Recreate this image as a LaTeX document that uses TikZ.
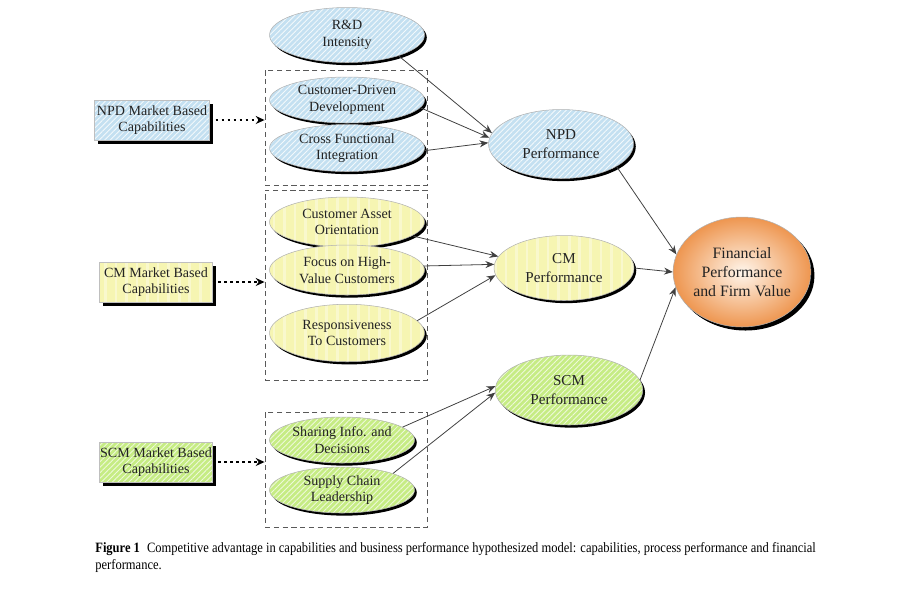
\documentclass[tikz,border=0pt]{standalone}
\usepackage{fontspec}
\setmainfont{Liberation Serif}
\newfontfamily\capfont[FakeStretch=0.88]{Liberation Serif}
\usetikzlibrary{shapes.geometric,patterns.meta,shadows,arrows.meta}
\definecolor{bluef}{RGB}{196,224,241}
\definecolor{yelf}{RGB}{246,245,178}
\definecolor{grnf}{RGB}{198,236,132}
\definecolor{orgo}{RGB}{238,150,80}
\definecolor{orgi}{RGB}{255,246,236}
\definecolor{txt}{RGB}{35,35,35}
\tikzset{
  shad/.style={drop shadow={shadow xshift=1.3pt, shadow yshift=-1.5pt, fill=black, opacity=1}},
  ell/.style={ellipse, inner sep=0pt, draw=gray!60, line width=0.3pt, align=center, text=txt,
    font=\fontsize{8}{9.5}\selectfont, shad},
  bigell/.style={ell, font=\fontsize{8.6}{10.5}\selectfont},
  bluepat/.style={preaction={fill=bluef}, pattern={Lines[angle=45,distance=2.2pt,line width=0.5pt]}, pattern color=white!80!bluef},
  yelpat/.style={preaction={fill=yelf}, pattern={Lines[angle=90,distance=6pt,line width=1.5pt]}, pattern color=white!35!yelf},
  grnpat/.style={preaction={fill=grnf}, pattern={Lines[angle=45,distance=2.2pt,line width=0.5pt]}, pattern color=white!70!grnf},
  capbox/.style={rectangle, inner sep=0pt, draw=gray!50, line width=0.3pt, align=center, text=txt,
    font=\fontsize{8}{9.5}\selectfont, minimum width=2.3cm, minimum height=0.8cm,
    drop shadow={shadow xshift=2pt, shadow yshift=-2pt, fill=black, opacity=1}},
  dbox/.style={rectangle, draw=gray!70!black, densely dashed, line width=0.5pt, inner sep=0pt},
  conn/.style={draw=black!75, line width=0.45pt, -{Stealth[length=5pt,width=4pt]}},
  dotarr/.style={draw=black, line width=1.4pt, dotted, -{Stealth[length=5pt,width=4.5pt]}},
}
\begin{document}
\begin{tikzpicture}[x=0.02cm,y=-0.02cm]
\useasboundingbox (0,0) rectangle (900,600);
% dashed groups
\node[dbox, minimum width=3.24cm, minimum height=2.3cm] (g1) at (346,127.5) {};
\node[dbox, minimum width=3.24cm, minimum height=3.8cm] (g2) at (346,285) {};
\node[dbox, minimum width=3.24cm, minimum height=2.3cm] (g3) at (346,469.5) {};
% NPD
\node[ell, bluepat, minimum width=3.1cm, minimum height=1.1cm] (rd) at (347,35) {R\&D\\Intensity};
\node[ell, bluepat, minimum width=3.1cm, minimum height=0.92cm] (cdd) at (347,100) {Customer-Driven\\Development};
\node[ell, bluepat, minimum width=3.1cm, minimum height=0.94cm] (cfi) at (347,148) {Cross Functional\\Integration};
\node[capbox, bluepat] (npdcap) at (152,120) {NPD Market Based\\Capabilities};
\node[bigell, bluepat, minimum width=2.9cm, minimum height=1.38cm] (npdp) at (561,144) {NPD\\Performance};
% CM
\node[ell, yelpat, minimum width=3.1cm, minimum height=1.0cm] (cao) at (347,222) {Customer Asset\\Orientation};
\node[ell, yelpat, minimum width=3.1cm, minimum height=1.0cm] (fhv) at (347,270) {Focus on High-\\Value Customers};
\node[ell, yelpat, minimum width=3.1cm, minimum height=1.15cm] (rtc) at (347,333) {Responsiveness\\To Customers};
\node[capbox, yelpat, minimum width=2.25cm] (cmcap) at (156,282) {CM Market Based\\Capabilities};
\node[bigell, yelpat, minimum width=2.8cm, minimum height=1.3cm] (cmp) at (564,268) {CM\\Performance};
% SCM
\node[ell, grnpat, minimum width=2.9cm, minimum height=0.92cm] (sid) at (342,440) {Sharing Info. and\\Decisions};
\node[ell, grnpat, minimum width=2.9cm, minimum height=0.92cm] (scl) at (342,490) {Supply Chain\\Leadership};
\node[capbox, grnpat, minimum width=2.25cm] (scmcap) at (156,462) {SCM Market Based\\Capabilities};
\node[bigell, grnpat, minimum width=2.95cm, minimum height=1.4cm] (scmp) at (569,390) {SCM\\Performance};
% Financial
\node[ell, shading=radial, inner color=orgi, outer color=orgo, font=\fontsize{9}{11}\selectfont,
  minimum width=2.5cm, minimum height=2.2cm,
  drop shadow={shadow xshift=2pt, shadow yshift=-2pt, fill=black, opacity=1}] (fin) at (742,272)
  {Financial\\Performance\\and Firm Value};
% dotted arrows
\draw[dotarr] (npdcap.east) -- (npdcap.east -| g1.west);
\draw[dotarr] (cmcap.east) -- (cmcap.east -| g2.west);
\draw[dotarr] (scmcap.east) -- (scmcap.east -| g3.west);
% connectors
\draw[conn] (rd.-22) -- (npdp.171);
\draw[conn] (cdd.-6) -- (npdp.175);
\draw[conn] (cfi.-2) -- (npdp.179);
\draw[conn] (cao.-12) -- (cmp.170);
\draw[conn] (fhv.3) -- (cmp.177);
\draw[conn] (rtc.10) -- (cmp.186);
\draw[conn] (sid.12) -- (scmp.177);
\draw[conn] (scl.18) -- (scmp.182);
\draw[conn] (npdp.-22) -- (fin.165);
\draw[conn] (cmp.east) -- (fin.180);
\draw[conn] (scmp.8) -- (fin.193);
% caption
\node[anchor=north west, align=left, inner sep=0pt, text=black, font=\capfont\fontsize{8.1}{10}\selectfont] (cap) at (95,542)
  {\textbf{Figure 1}\enspace Competitive advantage in capabilities and business performance hypothesized model: capabilities, process performance and financial\\performance.};
\end{tikzpicture}
\end{document}
